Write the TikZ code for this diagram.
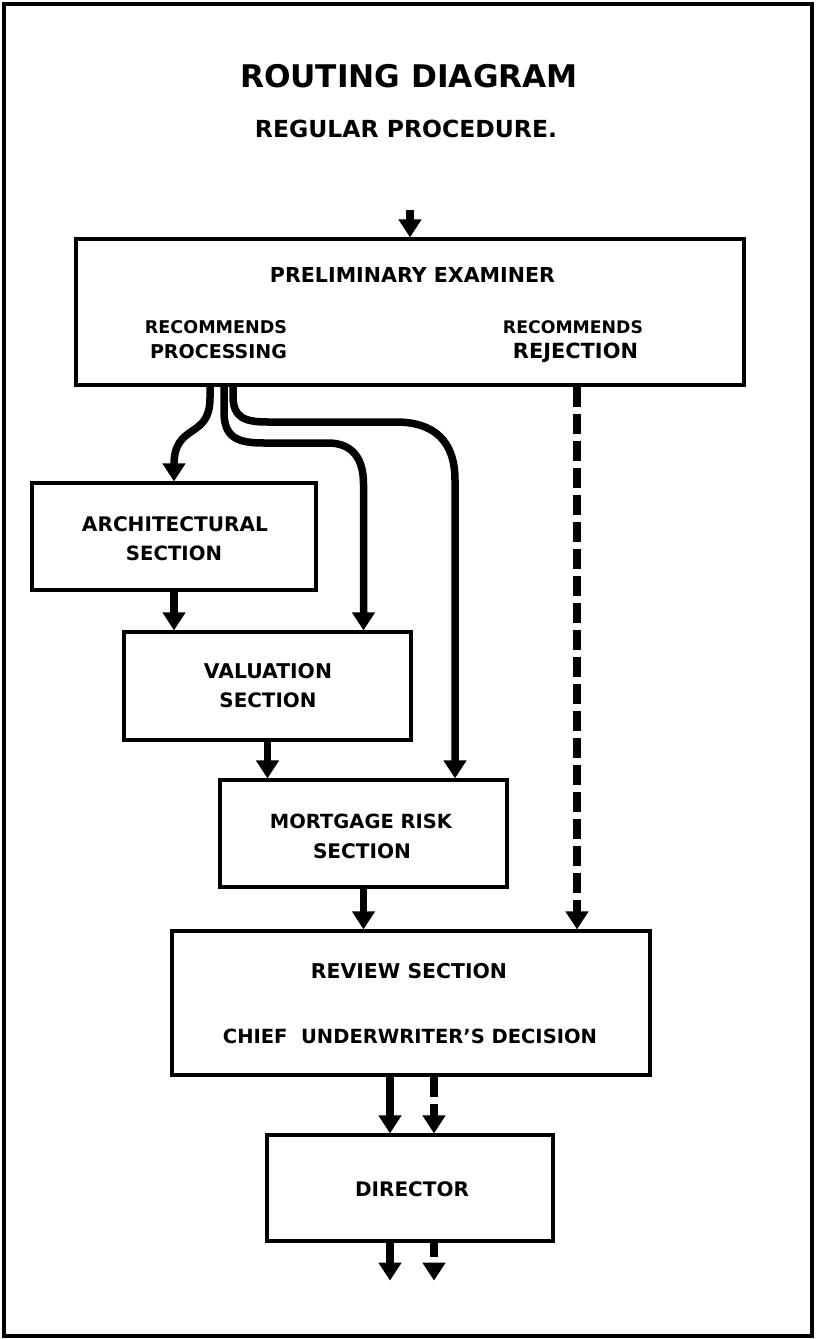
\documentclass[tikz,border=0pt]{standalone}
\usepackage{fontspec}
\setmainfont{DejaVu Sans}
\usetikzlibrary{arrows.meta}
\newcommand{\lbl}[2]{\resizebox{#1pt}{!}{\bfseries #2}}
\begin{document}
\begin{tikzpicture}[x=1pt,y=-1pt,
  box/.style={draw, line width=3.2pt, inner sep=0pt},
  conn/.style={line width=7.5pt, -{Triangle[width=22pt,length=18pt]}},
  dconn/.style={conn, dash pattern=on 20pt off 7pt},
  lab/.style={inner sep=0pt, anchor=base}]
\useasboundingbox (0,0) rectangle (816,1339);
\draw[line width=3.5pt] (4,4) rectangle (812,1336);

% titles
\node[lab] (title) at (409,87) {\lbl{338}{ROUTING DIAGRAM}};
\node[lab] (subtitle) at (406,137) {\lbl{302}{REGULAR PROCEDURE.}};

% boxes
\node[box, minimum width=668pt, minimum height=146pt] (pe) at (410,312) {};
\node[box, minimum width=284pt, minimum height=107pt] (arch) at (174,536.5) {};
\node[box, minimum width=287pt, minimum height=108pt] (val) at (267.5,686) {};
\node[box, minimum width=287pt, minimum height=107pt] (mort) at (363.5,833.5) {};
\node[box, minimum width=478pt, minimum height=144pt] (rev) at (411,1003) {};
\node[box, minimum width=286pt, minimum height=106pt] (dir) at (410,1188) {};

% texts
\node[lab] (peT) at (412.5,282) {\lbl{285}{PRELIMINARY EXAMINER}};
\node[lab] (rp1) at (216,333) {\lbl{142}{RECOMMENDS}};
\node[lab] (rp2) at (218.5,358) {\lbl{137}{PROCESSING}};
\node[lab] (rr1) at (573,333) {\lbl{140}{RECOMMENDS}};
\node[lab] (rr2) at (575.5,358) {\lbl{125}{REJECTION}};
\node[lab] (archT1) at (175,531) {\lbl{186}{ARCHITECTURAL}};
\node[lab] (archT2) at (174,560) {\lbl{96}{SECTION}};
\node[lab] (valT1) at (268,678) {\lbl{128}{VALUATION}};
\node[lab] (valT2) at (268,707) {\lbl{97}{SECTION}};
\node[lab] (mortT1) at (361,828) {\lbl{182}{MORTGAGE RISK}};
\node[lab] (mortT2) at (362,858) {\lbl{98}{SECTION}};
\node[lab] (revT1) at (409,978) {\lbl{196}{REVIEW SECTION}};
\node[lab] (revT2) at (410,1043) {\lbl{374}{CHIEF\ \ UNDERWRITER’S DECISION}};
\node[lab] (dirT) at (412,1196) {\lbl{114}{DIRECTOR}};

% incoming
\coordinate (in) at ([yshift=27pt]pe.north);
\draw[conn] (in) -- (pe.north);

% processing branches
\draw[conn] ([xshift=-200pt]pe.south) -- (210,398)
  .. controls (210,440) and (174,422) .. (174,465) -- (arch.north);
\draw[conn] ([xshift=-186pt]pe.south) -- (224,412)
  .. controls (224,438) and (238,443) .. (264,443) -- (328,443)
  .. controls (352,443) and (363.5,458) .. (363.5,484) -- (val.north -| mort.north);
\draw[conn] ([xshift=-177pt]pe.south) -- (233,396)
  .. controls (233,418) and (245,422) .. (268,422) -- (396,422)
  .. controls (435,422) and (455,442) .. (455,480) -- ([xshift=91.5pt]mort.north);

% chain
\draw[conn] (arch.south) -- (arch.south |- val.north);
\draw[conn] (val.south) -- (val.south |- mort.north);
\draw[conn] (mort.south) -- (mort.south |- rev.north);

% rejection
\coordinate (rj) at ([xshift=167pt]pe.south);
\draw[dconn] (rj) -- (rj |- rev.north);

% review to director
\coordinate (d1) at ([xshift=-21pt]rev.south);
\coordinate (d2) at ([xshift=23pt]rev.south);
\draw[conn] (d1) -- (d1 |- dir.north);
\draw[dconn] (d2) -- (d2 |- dir.north);

% outputs
\coordinate (o1s) at ([xshift=-20pt]dir.south);
\coordinate (o2s) at ([xshift=24pt]dir.south);
\coordinate (o1) at ([yshift=-38pt]o1s);
\coordinate (o2) at ([yshift=-38pt]o2s);
\draw[conn] (o1s) -- (o1);
\draw[conn, dash pattern=on 14pt off 6pt] (o2s) -- (o2);
\end{tikzpicture}
\end{document}
